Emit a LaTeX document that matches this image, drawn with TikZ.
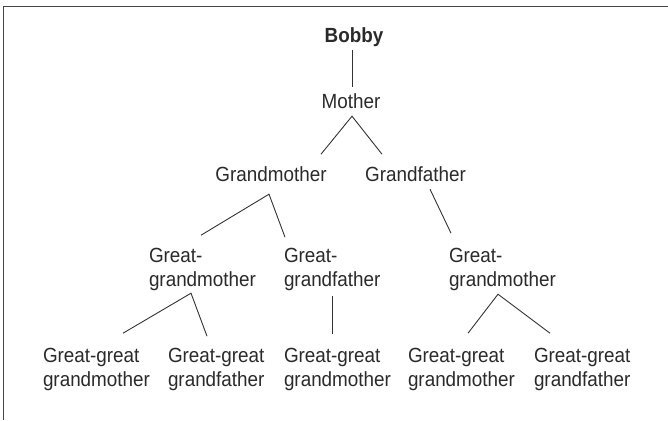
\documentclass[tikz,border=0pt]{standalone}
\usepackage{fontspec}
\setmainfont{Liberation Sans}[FakeStretch=0.92]
\usetikzlibrary{calc}
\definecolor{txt}{HTML}{2A2A2A}
\definecolor{ln}{HTML}{333333}
\definecolor{frame}{HTML}{444444}
\newcommand{\treefont}{\fontsize{20.5}{24}\selectfont}
\tikzset{
  person/.style={inner sep=0pt, outer sep=0pt, font=\treefont, text=txt},
  single/.style={person, anchor=base},
  multi/.style={person, align=left, anchor=north west},
  link/.style={draw=ln, line width=0.9pt}
}
\begin{document}
\begin{tikzpicture}[x=1pt, y=-1pt]
\useasboundingbox (0,0) rectangle (668,420);
\draw[frame, line width=1.6pt] (3.5,420) -- (3.5,6.5) -- (668,6.5);
% generation 0-2
\node[single, font=\treefont\bfseries] (bobby) at (354,42.5) {\strut Bobby};
\node[single] (mother) at (351,108) {\strut Mother};
\node[single] (gm) at (271,181) {\strut Grandmother};
\node[single] (gf) at (415.5,181) {\strut Grandfather};
% generation 3
\node[multi] (ggm1) at (149,245.2) {\strut Great-\\\strut grandmother};
\node[multi] (ggf) at (284,245.2) {\strut Great-\\\strut grandfather};
\node[multi] (ggm2) at (449,245.2) {\strut Great-\\\strut grandmother};
% generation 4
\node[multi] (gg1) at (43,345.2) {\strut Great-great\\\strut grandmother};
\node[multi] (gg2) at (168,345.2) {\strut Great-great\\\strut grandfather};
\node[multi] (gg3) at (284,345.2) {\strut Great-great\\\strut grandmother};
\node[multi] (gg4) at (408,345.2) {\strut Great-great\\\strut grandmother};
\node[multi] (gg5) at (534,345.2) {\strut Great-great\\\strut grandfather};
% connectors
\draw[link] ($(bobby.south)+(-2,0)$) -- ($(mother.north)+(1,-4)$);
\draw[link] ($(gm.north)+(50,-10)$) -- ($(mother.south)+(1,1)$) -- ($(gf.north)+(-33.5,-10)$);
\draw[link] ($(ggm1.north west)+(52,-10)$) -- ($(gm.south)+(-2,6)$) -- ($(ggf.north west)+(1,-8)$);
\draw[link] ($(gf.south)+(14.5,1)$) -- ($(ggm2.north west)+(2,-12)$);
\draw[link] ($(gg1.north west)+(80,-12)$) -- ($(ggm1.south west)+(42,0)$) -- ($(gg2.north west)+(39,-9)$);
\draw[link] ($(ggf.south west)+(48,3)$) -- ($(gg3.north west)+(48,-11)$);
\draw[link] ($(gg4.north west)+(60,-12)$) -- ($(ggm2.south west)+(49,1)$) -- ($(gg5.north west)+(16,-12)$);
\end{tikzpicture}
\end{document}
